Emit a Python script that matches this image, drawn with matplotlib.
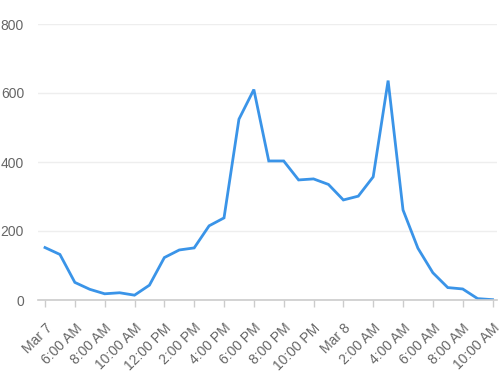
import matplotlib
matplotlib.use("Agg")
import matplotlib.pyplot as plt

plt.rcParams['font.family'] = ['Liberation Sans', 'DejaVu Sans']

# hourly values, Mar 7 4:00 AM .. Mar 8 10:00 AM
values = [152, 132, 51, 31, 18, 21, 14, 43, 123, 145, 151, 215, 238, 524, 610,
          403, 403, 348, 351, 335, 290, 301, 357, 636, 261, 150, 79, 36, 32, 4, 1]
tick_labels = ["Mar 7", "6:00 AM", "8:00 AM", "10:00 AM", "12:00 PM", "2:00 PM",
               "4:00 PM", "6:00 PM", "8:00 PM", "10:00 PM", "Mar 8", "2:00 AM",
               "4:00 AM", "6:00 AM", "8:00 AM", "10:00 AM"]
y_ticks = [0, 200, 400, 600, 800]

fig = plt.figure(figsize=(4.99, 3.73), dpi=100)
ax = fig.add_axes([38 / 499, 73 / 373, 459 / 499, 276 / 373])

x = list(range(len(values)))
ax.plot(x, values, color='#3a94e8', linewidth=2, solid_joinstyle='miter')

ax.set_xlim(-0.47, 30.3)
ax.set_ylim(0, 800)
ax.set_yticks(y_ticks)
ax.set_xticks(list(range(0, len(values), 2)))
ax.set_xticklabels(tick_labels, rotation=45, ha='right', va='top',
                   rotation_mode='anchor')

for s in ['top', 'right', 'left']:
    ax.spines[s].set_visible(False)
ax.spines['bottom'].set_color('#cccccc')
ax.spines['bottom'].set_linewidth(1.2)
ax.yaxis.grid(True, color='#eeeeee', linewidth=1)
ax.set_axisbelow(True)

ax.tick_params(axis='y', length=0, pad=10, labelsize=10, labelcolor='#666666')
ax.tick_params(axis='x', length=5, width=1, color='#cccccc', pad=10,
               labelsize=10, labelcolor='#666666')

fig.savefig('out.png', dpi=100)
